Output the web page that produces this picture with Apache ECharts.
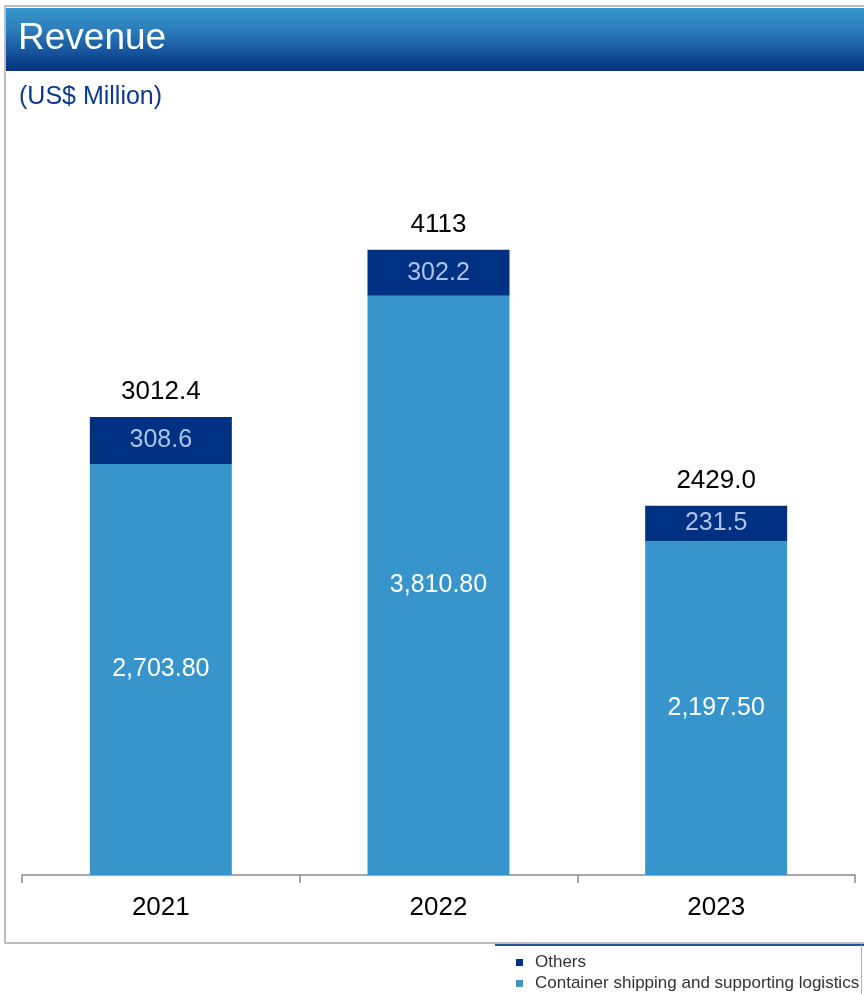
<!DOCTYPE html>
<html>
<head>
<meta charset="utf-8">
<script src="https://cdn.jsdelivr.net/npm/echarts@6/dist/echarts.min.js"></script>
<style>
  html, body { margin: 0; padding: 0; background: #ffffff; }
  #chart { width: 864px; height: 994px; }
</style>
</head>
<body>
<div id="chart"></div>
<script>
// Revenue by segment, US$ million
const years = ['2021', '2022', '2023'];
const containerShipping = [2703.8, 3810.8, 2197.5];
const others = [308.6, 302.2, 231.5];
const totalLabels = ['3012.4', '4113', '2429.0'];

const seriesNames = ['Others', 'Container shipping and supporting logistics'];
const DARK = '#003082';
const LIGHT = '#3895cb';
const SANS = '"Liberation Sans", Arial, sans-serif';

const fmt2 = v => v.toLocaleString('en-US', { minimumFractionDigits: 2, maximumFractionDigits: 2 });
const fmt1 = v => v.toFixed(1);

// one legend block per entry, stacked vertically
const legendEntry = (name, top) => ({
  data: [name],
  left: 516,
  top: top,
  padding: 0,
  itemWidth: 7,
  itemHeight: 7,
  icon: 'rect',
  selectedMode: false,
  textStyle: { fontFamily: SANS, fontSize: 17, color: '#333333', padding: [0, 0, 0, 7] }
});

const chart = echarts.init(document.getElementById('chart'), null, { renderer: 'canvas' });

chart.setOption({
  animation: false,
  backgroundColor: '#ffffff',
  graphic: [
    // outer frame
    { type: 'rect', z: 0, shape: { x: 5, y: 6, width: 870, height: 937 },
      style: { fill: 'none', stroke: '#a8a8a8', lineWidth: 1.5 } },
    // header band
    { type: 'rect', z: 1, shape: { x: 6, y: 8, width: 860, height: 63 },
      style: { fill: new echarts.graphic.LinearGradient(0, 0, 0, 1, [
        { offset: 0, color: '#3a98cd' },
        { offset: 0.35, color: '#2b7dbb' },
        { offset: 1, color: '#05307f' }
      ]) } },
    { type: 'text', z: 2, left: 18, top: 20,
      style: { text: 'Revenue', fill: '#ffffff', font: '37px ' + SANS } },
    { type: 'text', z: 2, left: 19, top: 85,
      style: { text: '(US$ Million)', fill: '#0c3a8c', font: '25px ' + SANS } },
    // legend box edges
    { type: 'line', z: 2, shape: { x1: 495, y1: 945, x2: 864, y2: 945 },
      style: { stroke: '#2d4f98', lineWidth: 2 } },
    { type: 'line', z: 2, shape: { x1: 861.5, y1: 945, x2: 861.5, y2: 994 },
      style: { stroke: '#b0b0b0', lineWidth: 1 } }
  ],
  legend: [
    legendEntry(seriesNames[0], 954),
    legendEntry(seriesNames[1], 975)
  ],
  grid: { left: 22, right: 9, top: 191, bottom: 119 },
  xAxis: {
    type: 'category',
    data: years,
    axisLine: { lineStyle: { color: '#8a8a8a', width: 1.5 } },
    axisTick: { show: true, length: 8, lineStyle: { color: '#8a8a8a', width: 1.5 } },
    axisLabel: { color: '#000000', fontFamily: SANS, fontSize: 26, margin: 20 }
  },
  yAxis: {
    type: 'value',
    min: 0,
    max: 4500,
    show: false,
    splitLine: { show: false }
  },
  series: [
    {
      name: seriesNames[1],
      type: 'bar',
      stack: 'rev',
      barWidth: 142,
      data: containerShipping,
      itemStyle: { color: LIGHT },
      label: {
        show: true, position: 'inside',
        formatter: p => fmt2(p.value),
        color: '#ffffff', fontFamily: SANS, fontSize: 25
      }
    },
    {
      name: seriesNames[0],
      type: 'bar',
      stack: 'rev',
      barWidth: 142,
      data: others,
      itemStyle: { color: DARK },
      label: {
        show: true, position: 'inside',
        formatter: p => fmt1(p.value),
        color: '#a9c4e6', fontFamily: SANS, fontSize: 25
      }
    },
    {
      name: 'total',
      type: 'bar',
      stack: 'rev',
      barWidth: 142,
      data: years.map(() => 0),
      itemStyle: { color: 'transparent' },
      label: {
        show: true, position: 'top', distance: 12,
        formatter: p => totalLabels[p.dataIndex],
        color: '#000000', fontFamily: SANS, fontSize: 26
      }
    }
  ]
});
</script>
</body>
</html>
